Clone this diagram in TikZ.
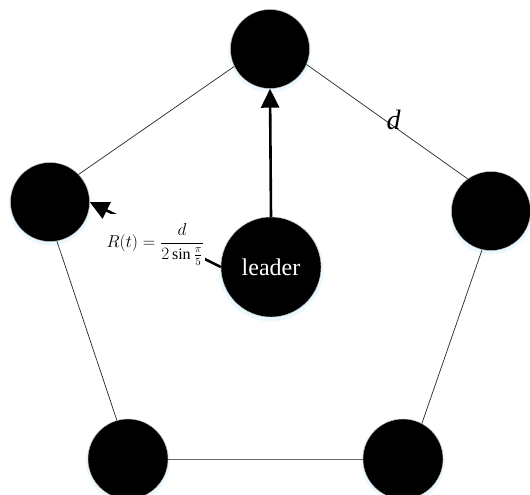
\documentclass[tikz,border=0pt]{standalone}
\usepackage{amsmath}
\usepackage{fontspec}
\setmainfont{Liberation Serif}
\usepackage{tikz}
\usetikzlibrary{positioning, arrows.meta, shadows}

\begin{document}
\begin{tikzpicture}[
        x=1pt, y=-1pt,
        agent/.style={circle, fill=black, draw=gray!50, line width=0.4pt, inner sep=0pt,
                      minimum size=79pt,
                      general shadow={shadow scale=1.05, shadow yshift=-2pt, fill=cyan!8}},
        edge/.style={draw=black!85, line width=0.7pt},
        arr/.style={-{Triangle[length=19pt, width=18pt]}, line width=2.6pt}
    ]
    \useasboundingbox (0,0) rectangle (530,495);

    % followers on the pentagon
    \node[agent] (top) at (270,49) {};
    \node[agent] (lft) at (50,202) {};
    \node[agent] (rgt) at (491,211) {};
    \node[agent, minimum size=80pt] (bl) at (128,459) {};
    \node[agent, minimum size=80pt] (br) at (403,459) {};

    % leader in the middle
    \node[agent, minimum size=100pt, text=white, font=\fontsize{24}{28}\selectfont] (ld) at (271,267) {leader};

    \draw[edge] (top.-154) -- (lft.44);
    \draw[edge] (top.-23) -- node[pos=0.54, yshift=6pt, font=\itshape\fontsize{28}{30}\selectfont] (dlab) {d} (rgt.126);
    \draw[edge] (lft.-80) -- (bl.106);
    \draw[edge] (rgt.-103) -- (br.62);
    \draw[edge, draw=black!60, line width=1pt] (bl.east) -- (br.west);

    \draw[arr] (ld.north) -- (top.south);
    \draw[arr] (ld.west) -- node[fill=white, yshift=-10pt, inner xsep=1pt, inner ysep=10pt,
        font=\fontsize{16}{18}\selectfont] (rad) {$R(t)=\dfrac{d}{2\sin\frac{\pi}{5}}$} (lft.east);
\end{tikzpicture}
\end{document}
